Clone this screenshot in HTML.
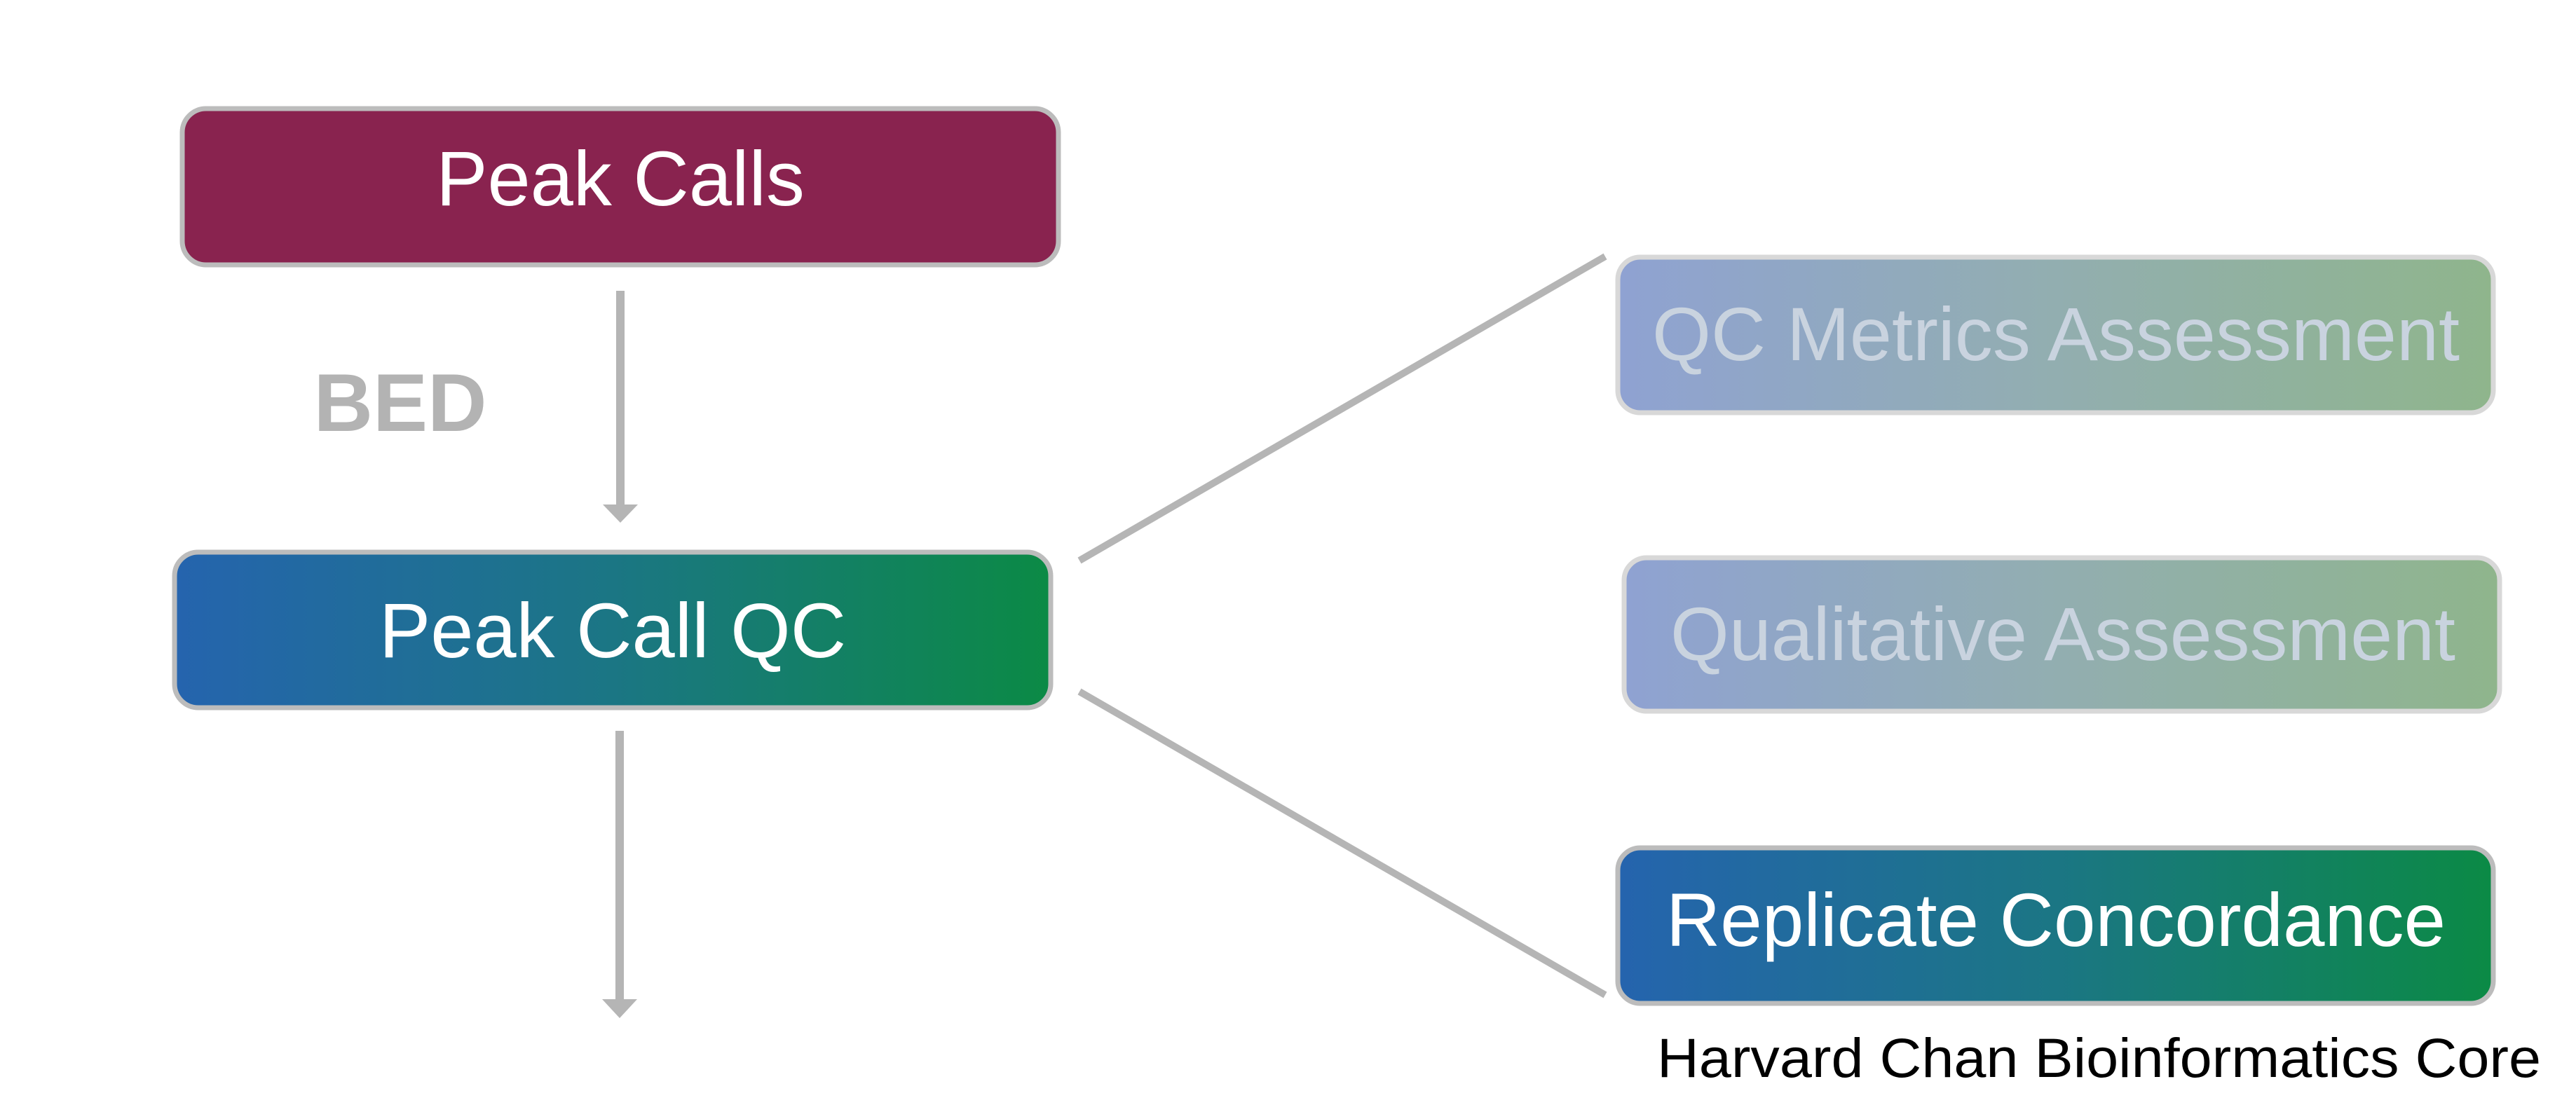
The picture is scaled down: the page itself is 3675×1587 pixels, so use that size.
<!DOCTYPE html>
<html><head><meta charset="utf-8"><style>html,body{margin:0;padding:0;background:#fff}svg{display:block}</style></head>
<body>
<svg width="3675" height="1587" viewBox="0 0 3675 1587" xmlns="http://www.w3.org/2000/svg" font-family="Liberation Sans, Arial, sans-serif">
<defs>
<linearGradient id="g1" x1="0" x2="1" y1="0" y2="0"><stop offset="0" stop-color="#2564ae"/><stop offset="0.5" stop-color="#1b7684"/><stop offset="1" stop-color="#0b8a45"/></linearGradient>
<linearGradient id="g2" x1="0" x2="1" y1="0" y2="0"><stop offset="0" stop-color="#8fa2d2"/><stop offset="0.5" stop-color="#92aeb0"/><stop offset="1" stop-color="#8fb58c"/></linearGradient>
</defs>
<!-- Peak Calls -->
<rect x="260" y="155" width="1250" height="223" rx="34" fill="#89234f" stroke="#bcbcbc" stroke-width="7"/>
<text x="885" y="293" font-size="110" fill="#fff" text-anchor="middle">Peak Calls</text>
<!-- arrow 1 -->
<line x1="885" y1="415" x2="885" y2="722" stroke="#b5b5b5" stroke-width="12"/>
<polygon points="860,720 910,720 885,746" fill="#b5b5b5"/>
<text x="571" y="615" font-size="117" font-weight="bold" fill="#b3b3b3" text-anchor="middle">BED</text>
<!-- Peak Call QC -->
<rect x="249" y="788" width="1250" height="222" rx="34" fill="url(#g1)" stroke="#bcbcbc" stroke-width="7"/>
<text x="874" y="938" font-size="110" fill="#fff" text-anchor="middle">Peak Call QC</text>
<!-- arrow 2 -->
<line x1="884" y1="1043" x2="884" y2="1428" stroke="#b5b5b5" stroke-width="12"/>
<polygon points="859,1426 909,1426 884,1453" fill="#b5b5b5"/>
<!-- diagonal lines -->
<line x1="1540" y1="800" x2="2290" y2="366" stroke="#b5b5b5" stroke-width="10"/>
<line x1="1540" y1="987" x2="2290" y2="1420" stroke="#b5b5b5" stroke-width="10"/>
<!-- QC Metrics -->
<rect x="2308" y="367" width="1249" height="222" rx="32" fill="url(#g2)" stroke="#d8d8d8" stroke-width="7"/>
<text x="2933" y="514" font-size="108" fill="#c9d3df" text-anchor="middle" textLength="1152" lengthAdjust="spacingAndGlyphs">QC Metrics Assessment</text>
<!-- Qualitative -->
<rect x="2317" y="796" width="1249" height="219" rx="32" fill="url(#g2)" stroke="#d8d8d8" stroke-width="7"/>
<text x="2943" y="942" font-size="108" fill="#c9d3df" text-anchor="middle" textLength="1120" lengthAdjust="spacingAndGlyphs">Qualitative Assessment</text>
<!-- Replicate -->
<rect x="2308" y="1210" width="1249" height="222" rx="32" fill="url(#g1)" stroke="#bcbcbc" stroke-width="7"/>
<text x="2933" y="1350" font-size="108" fill="#fff" text-anchor="middle" textLength="1112" lengthAdjust="spacingAndGlyphs">Replicate Concordance</text>
<!-- footer -->
<text x="2364" y="1537" font-size="79" fill="#000" textLength="1261" lengthAdjust="spacingAndGlyphs">Harvard Chan Bioinformatics Core</text>
</svg>
</body></html>
